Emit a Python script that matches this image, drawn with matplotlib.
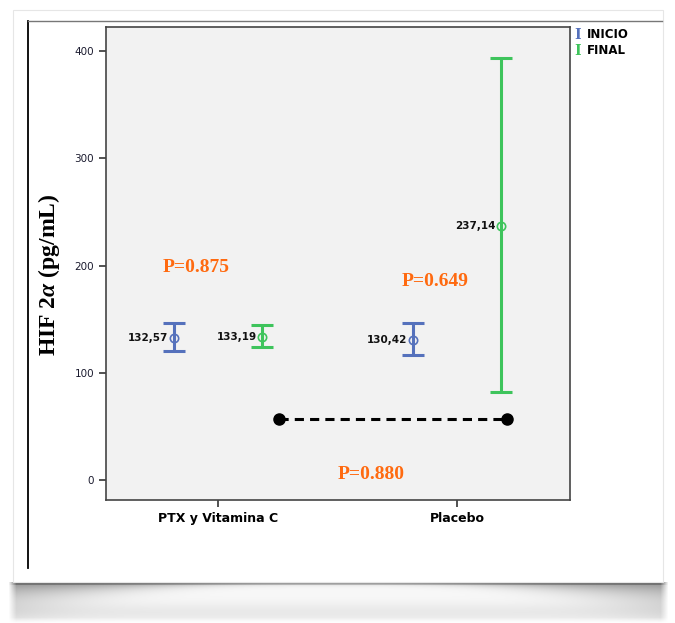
import numpy as np
import matplotlib.pyplot as plt
import matplotlib.patches as mpatches

plt.rcParams["mathtext.fontset"] = "custom"
plt.rcParams["mathtext.it"] = "Liberation Serif:italic:bold"
plt.rcParams["mathtext.rm"] = "Liberation Serif:bold"
plt.rcParams["mathtext.bf"] = "Liberation Serif:bold"

categories = ["PTX y Vitamina C", "Placebo"]
inicio_mean = [132.57, 130.42]
inicio_low = [120.6, 116.3]
inicio_high = [146.1, 146.1]
final_mean = [133.19, 237.14]
final_low = [123.7, 82.1]
final_high = [144.2, 393.5]
inicio_labels = ["132,57", "130,42"]
final_labels = ["133,19", "237,14"]
yticks = [0, 100, 200, 300, 400]
p_texts = ["P=0.875", "P=0.649", "P=0.880"]
p_pos = [(-0.09, 198.6), (0.91, 185.5), (0.64, 5.6)]
bracket_x = [0.255, 1.209]
bracket_y = 56.9

BLUE = "#5571bc"
GREEN = "#3ec45c"
ORANGE = "#ff6a10"

W, H = 675, 623
fig = plt.figure(figsize=(6.75, 6.23), dpi=100)

# decorative background (card + shadow) in pixel coordinates
bg = fig.add_axes([0, 0, 1, 1])
bg.set_xlim(0, W)
bg.set_ylim(H, 0)
bg.axis("off")
bg.set_zorder(0)

xs = np.arange(0, W)
ys = np.arange(580, H)
X, Y = np.meshgrid(xs, ys)
u = np.clip((X - 337.0) / 330.0, -1.2, 1.2)
t = Y - 582.0
dark = np.zeros_like(X, dtype=float)
h = 1.5 + 16 * np.abs(u) ** 3
dark += np.where(t >= 0, 0.42 * np.exp(-np.maximum(t, 0) / h), 0)
dark += np.where((t >= 0) & (t < 3), 0.15, 0)
dark += np.where(t >= 0, 0.06 * np.exp(-((t - 30) / 10.0) ** 2) + 0.03, 0)
edge_fade = np.clip((X - 8) / 8.0, 0, 1) * np.clip((668 - X) / 8.0, 0, 1)
dark *= edge_fade
dark *= np.clip((H - Y) / 6.0, 0, 1)
img = np.ones((len(ys), len(xs), 4))
img[..., :3] = 0.0
img[..., 3] = np.clip(dark, 0, 1)
bg.imshow(img, extent=(0, W, ys[-1] + 1, ys[0]), aspect="auto", interpolation="bilinear")
bg.set_xlim(0, W)
bg.set_ylim(H, 0)

bg.add_patch(mpatches.Rectangle((13, 10), 650, 572, facecolor="white",
                                edgecolor="#e6e6e6", linewidth=0.8, zorder=2))
bg.plot([28, 28], [21, 568], color="black", linewidth=1.3, zorder=3)
bg.plot([28, 662], [21, 21], color="#777777", linewidth=1.0, zorder=3)

ax = fig.add_axes([106 / W, 1 - 500 / H, (570 - 106) / W, (500 - 27) / H])
ax.set_zorder(3)
ax.set_facecolor("#f2f2f2")
ax.set_xlim(-0.469, 1.473)
ax.set_ylim(-18.6, 422.4)

off = 0.185
for i in range(2):
    for mean, lo, hi, lab, col, dx in [
        (inicio_mean[i], inicio_low[i], inicio_high[i], inicio_labels[i], BLUE, -off),
        (final_mean[i], final_low[i], final_high[i], final_labels[i], GREEN, off)]:
        x = i + dx
        ax.errorbar([x], [mean], yerr=[[mean - lo], [hi - mean]], fmt="none",
                    ecolor=col, elinewidth=2.2, capsize=8, capthick=2.2, zorder=3)
        ax.plot([x], [mean], marker="o", markersize=6, markerfacecolor="none",
                markeredgecolor=col, markeredgewidth=1.2, zorder=4)
        ax.annotate(lab, (x, mean), xytext=(-4, 0), textcoords="offset points",
                    ha="right", va="center", fontsize=7.5, color="#111111",
                    fontweight="bold", family="DejaVu Sans")

for tx, (px, py) in zip(p_texts, p_pos):
    ax.text(px, py, tx, color=ORANGE, fontsize=14, fontweight="bold",
            family="Liberation Serif", ha="center", va="center")

ax.plot(bracket_x, [bracket_y, bracket_y], linestyle=(0, (3, 2)), color="black",
        linewidth=2.2, zorder=5)
ax.plot(bracket_x, [bracket_y, bracket_y], linestyle="none", marker="o",
        markersize=8, color="black", zorder=6)

ax.set_xticks([0, 1])
ax.set_xticklabels(categories, fontsize=9, fontweight="bold", family="DejaVu Sans")
ax.set_yticks(yticks)
ax.set_yticklabels([str(v) for v in yticks], fontsize=7.5, family="DejaVu Sans",
                   color="#1a1a2e")
ax.tick_params(axis="both", length=5, width=1.2, color="#333333")
for s in ax.spines.values():
    s.set_color("#444444")
    s.set_linewidth(1.2)

ax.set_ylabel(r"HIF 2$\mathit{\alpha}$ (pg/mL)", fontsize=17, fontweight="bold",
              family="Liberation Serif")
ax.yaxis.set_label_coords(-0.095, (500 - 275) / 473.0)

# legend
for k, (lab, col) in enumerate([("INICIO", BLUE), ("FINAL", GREEN)]):
    y = 1 - (35 + k * 16) / H
    fig.text(578 / W, y, "I", color=col, fontsize=10, fontweight="bold",
             family="DejaVu Serif", ha="center", va="center", zorder=5)
    fig.text(587 / W, y, lab, color="black", fontsize=8.5, fontweight="bold",
             family="DejaVu Sans", ha="left", va="center", zorder=5)

fig.savefig("out.png", dpi=100, facecolor="white")
